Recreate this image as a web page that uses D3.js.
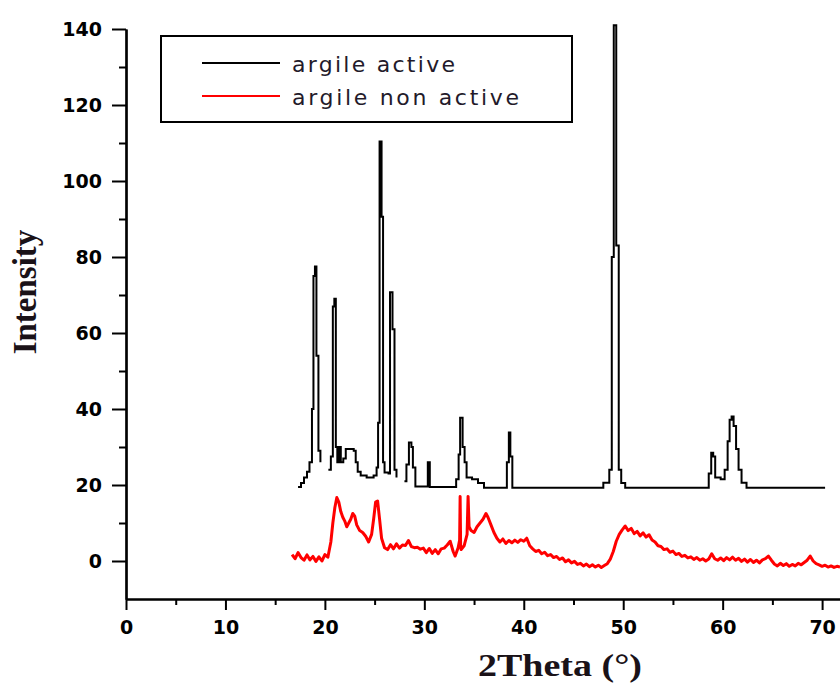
<!DOCTYPE html>
<html>
<head>
  <meta charset="utf-8">
  <title>xrd argile</title>
  <style>
    body{ margin:0; background:#fff; }
    .tick text{ font-family:"DejaVu Sans"; font-weight:bold; font-size:19px; fill:#000; }
    .title{ font-family:"Liberation Serif"; font-weight:bold; fill:#1a1218; }
    .leg{ font-family:"DejaVu Sans"; font-size:22px; fill:#231a2a; }
  </style>
  <script src="https://d3js.org/d3.v7.min.js"></script>
</head>
<body>
  <script>
    // x ticks / y ticks
    var xTicks = [0,10,20,30,40,50,60,70];
    var xMinor = [5,15,25,35,45,55,65];
    var yTicks = [0,20,40,60,80,100,120,140];
    var yMinor = [10,30,50,70,90,110,130];

    // argile active (step data, null = gap)
    var activeTheta = [17.3,17.6,17.9,18.2,18.45,18.7,18.85,19.0,19.15,19.35,19.55,19.75,
      20.35,20.6,20.8,20.95,21.1,21.25,21.4,21.6,21.85,22.1,22.9,23.1,23.3,23.6,24.2,24.9,
      25.2,25.35,25.5,25.7,25.85,26.0,26.4,26.55,26.8,27.0,27.2,27.4,
      28.0,28.2,28.45,28.7,28.85,29.1,30.35,30.55,33.2,33.45,33.6,33.85,34.05,34.25,34.8,35.4,36.0,
      38.3,38.5,38.65,38.85,48.0,48.6,48.85,49.05,49.3,49.55,49.8,50.2,
      58.6,58.85,59.05,59.25,59.8,60.2,60.5,60.7,60.9,61.1,61.35,61.6,61.9,62.4,70.3];
    var activeCounts = [19.5,20.5,22,23.5,26,40,75,77.5,54,29,26,null,
      24,27.5,67,69,30,26,30,26,27,29.5,29,26,23.5,22.5,22,22.5,
      24.6,36.4,110.4,90.6,26,23.3,23,70.7,61,24,22,null,
      21,25.4,31.2,30,24.6,19.6,26,19.5,21.5,28,37.7,30,26,22,21.5,20.5,19.3,
      26,33.8,27.5,19.3,20.6,24,80,141,83,24,20.5,19.3,
      23,28.5,27.5,22,21.5,24,31.5,37.2,38,35.5,29.5,24,20.6,19.3,19.3];

    // argile non active
    var nonTheta = [16.7,17.0,17.3,17.6,17.9,18.2,18.5,18.8,19.1,19.4,19.7,20.0,20.3,20.6,20.8,21.0,21.2,21.4,21.6,21.8,
      22.0,22.2,22.4,22.6,22.8,23.0,23.2,23.5,23.8,24.1,24.4,24.7,24.9,25.1,25.3,25.5,25.7,26.0,26.3,26.6,
      26.9,27.2,27.5,27.8,28.1,28.4,28.7,29.0,29.3,29.6,29.9,30.2,30.5,30.8,31.1,31.4,31.7,32.0,32.3,32.6,
      32.9,33.1,33.4,33.55,33.6,33.65,33.7,34.0,34.3,34.4,34.5,34.7,35.0,35.3,35.6,35.9,36.2,36.4,36.7,37.0,
      37.3,37.6,37.9,38.2,38.5,38.8,39.1,39.4,39.7,40.0,40.3,40.6,40.9,41.2,41.5,41.8,42.1,42.4,42.7,43.0,
      43.3,43.6,43.9,44.2,44.5,44.8,45.1,45.4,45.7,46.0,46.3,46.6,46.9,47.2,47.5,47.8,48.1,48.4,48.7,49.0,
      49.3,49.6,49.9,50.2,50.5,50.8,51.1,51.4,51.7,52.0,52.3,52.6,52.9,53.2,53.5,53.8,54.1,54.4,54.7,55.0,
      55.3,55.6,55.9,56.2,56.5,56.8,57.1,57.4,57.7,58.0,58.3,58.6,58.9,59.2,59.5,59.8,60.1,60.4,60.7,61.0,
      61.3,61.6,61.9,62.2,62.5,62.8,63.1,63.4,63.7,64.0,64.3,64.6,64.9,65.2,65.5,65.8,66.1,66.4,66.7,67.0,
      67.3,67.6,67.9,68.2,68.5,68.8,69.1,69.4,69.7,70.0,70.3,70.6,70.9,71.2,71.5,71.8];
    var nonCounts = [1.7,0.6,2.2,0.9,0.2,1.6,0.3,1.2,-0.1,1.1,0.0,1.7,1.0,5,10,14,16.7,15.5,13,11.5,
      10.5,9,10,11,12.5,11.8,9.5,8,7.5,6.5,5,7,11,15.5,15.8,11,6,3.5,3.0,4.3,
      3.2,4.5,3.4,4.2,4.1,5.4,3.8,3.5,3.6,3.1,3.4,2.2,3.3,2.0,3.0,1.9,3.2,3.4,4.2,5.2,
      2.5,1.3,3.5,5.5,17,4,3,4,7,17,9,8,7.5,9,10,11,12.5,11.5,9.5,7.5,
      6,5,5.8,4.6,5.4,4.8,5.5,4.9,5.6,5.2,6.0,4.0,3.2,2.5,2.8,1.9,2.3,1.4,1.7,0.9,
      1.2,0.4,0.8,-0.2,0.3,-0.5,-0.1,-0.9,-0.6,-1.3,-0.8,-1.5,-1.0,-1.6,-1.1,-1.7,-1.2,-0.7,0.5,2.5,
      5.2,7.0,8.2,9.2,8.0,8.6,7.2,7.8,6.6,7.4,6.3,6.9,5.5,5.0,4.0,3.8,3.0,3.2,2.3,2.6,
      1.7,2.0,1.2,1.5,0.8,1.1,0.4,0.9,0.2,0.6,0.0,0.5,1.9,0.6,0.2,0.8,0.1,0.9,0.3,1.0,
      0.2,0.7,-0.1,0.5,-0.3,0.4,-0.4,0.2,-0.5,0.3,0.6,1.3,0.2,-0.8,-1.3,-0.6,-1.2,-0.7,-1.4,-0.9,
      -1.3,-0.6,-1.0,-0.4,0.2,1.3,0.0,-0.7,-1.0,-1.4,-1.1,-1.6,-1.3,-1.7,-1.4,-1.6];

    var legendNames = ["argile active","argile non active"];
    var legendColors = ["#000","#ff0000"];

    var width = 840, height = 686;
    var svg = d3.select('body').append('svg')
      .attr('width',width).attr('height',height);

    var x = d3.scaleLinear().domain([0,71.8]).range([126,840]);
    var y = d3.scaleLinear().domain([-10,140]).range([599,29]);

    // curves
    var active = activeTheta.map((t,i)=>[t,activeCounts[i]]);
    var non = nonTheta.map((t,i)=>[t,nonCounts[i]]);

    var line = d3.line()
      .defined(d=>d[1]!=null)
      .x(d=>x(d[0])).y(d=>y(d[1]));

    svg.append('path').datum(non)
      .attr('d',line)
      .attr('fill','none').attr('stroke','#ff0000')
      .attr('stroke-width',3).attr('stroke-linejoin','round');

    svg.append('path').datum(active)
      .attr('d',line.curve(d3.curveStepAfter))
      .attr('fill','none').attr('stroke','#000')
      .attr('stroke-width',2);

    // axes
    svg.append('g').attr('transform','translate(126,0)')
      .call(d3.axisLeft(y).tickValues(yTicks).tickSize(14).tickSizeOuter(0).tickPadding(10));
    svg.append('g').attr('transform','translate(126,0)')
      .call(d3.axisLeft(y).tickValues(yMinor).tickSize(7).tickSizeOuter(0).tickFormat(''));
    svg.append('g').attr('transform','translate(0,599)')
      .call(d3.axisBottom(x).tickValues(xTicks).tickSize(11).tickSizeOuter(0).tickPadding(11));
    svg.append('g').attr('transform','translate(0,599)')
      .call(d3.axisBottom(x).tickValues(xMinor).tickSize(6).tickSizeOuter(0).tickFormat(''));
    svg.selectAll('.domain').attr('stroke','#000').attr('stroke-width',2.2);
    svg.selectAll('.tick line').attr('stroke','#000').attr('stroke-width',2);

    // titles
    svg.append('text').attr('class','title')
      .attr('transform','translate(36,292) rotate(-90)')
      .attr('text-anchor','middle').attr('font-size',33)
      .text('Intensity');
    svg.append('text').attr('class','title')
      .attr('x',478).attr('y',676).attr('font-size',31)
      .attr('textLength',164).attr('lengthAdjust','spacingAndGlyphs')
      .text('2Theta (°)');

    // legend
    var leg = svg.append('g');
    leg.append('rect').attr('x',161).attr('y',36).attr('width',411).attr('height',86)
      .attr('fill','#fff').attr('stroke','#000').attr('stroke-width',2);
    var lens = [163,227];
    legendNames.forEach(function(n,i){
      var yy = 63 + i*33;
      leg.append('line').attr('x1',202).attr('x2',280).attr('y1',yy).attr('y2',yy)
        .attr('stroke',legendColors[i]).attr('stroke-width',1.8);
      leg.append('text').attr('class','leg').attr('x',292).attr('y',yy+9)
        .attr('textLength',lens[i])
        .text(n);
    });
  </script>
</body>
</html>
